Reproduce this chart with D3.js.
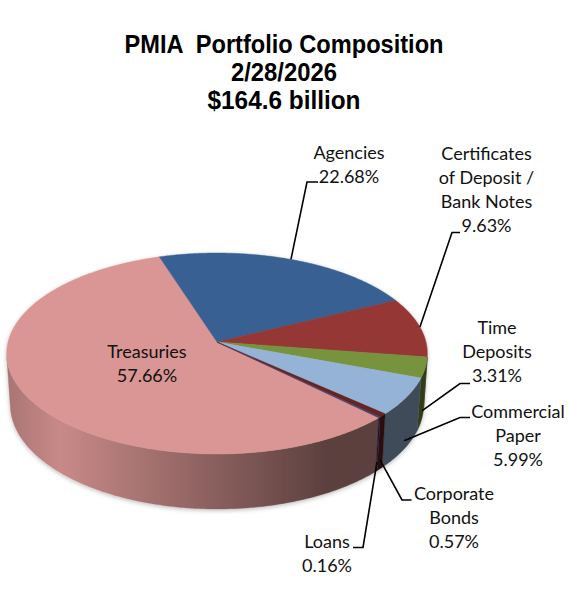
<!DOCTYPE html>
<html>
<head>
<meta charset="utf-8">
<script src="https://cdn.jsdelivr.net/npm/d3@7"></script>
<style>
  body { margin: 0; background: #fff; }
  svg { display: block; }
</style>
</head>
<body>
<svg id="chart"></svg>
<script>
// ---- data ----
const categories = ["Treasuries", "Agencies", "Certificates of Deposit / Bank Notes", "Time Deposits",
  "Commercial Paper", "Corporate Bonds", "Loans"];
const shares = [57.66, 22.68, 9.63, 3.31, 5.99, 0.57, 0.16];
const labelLines = [["Treasuries"], ["Agencies"], ["Certificates", "of Deposit /", "Bank Notes"],
  ["Time", "Deposits"], ["Commercial", "Paper"], ["Corporate", "Bonds"], ["Loans"]];
const titleLines = ["PMIA  Portfolio Composition", "2/28/2026", "$164.6 billion"];

// ---- style / layout ----
const colors = ["#D99694", "#376092", "#953735", "#77933C", "#95B3D7", "#632523", "#4F3A64"];
const W = 569, H = 613;
const CX = 217, CY = 342;          // projected pie centre
const K = 1609, DIST = 7.7;         // perspective
const COS_T = 0.88, SIN_T = 0.4745; // tilt
const THICK = 0.281;                // pie height (radius = 1)
const FIRST = 134.62 * Math.PI / 180;
const STEP = Math.PI / 360;

// where each label sits and how its leader bends
const labelLayout = [
  { x: 147, y: 357.5 },
  { x: 349, y: 159, bend: [307, 182], tick: 318, wall: 0 },
  { x: 486.5, y: 160, bend: [452, 232.5], tick: 460, wall: 0 },
  { x: 497, y: 333.5, bend: [460, 383.5], tick: 470, wall: 0.83 },
  { x: 518, y: 418, bend: [460, 417.5], tick: 470, wall: 0.83 },
  { x: 454, y: 500, bend: [402, 500], tick: 411.5, wall: 0.83 },
  { x: 327, y: 548, bend: [363, 547.5], tick: 353, wall: 0.83 }
];

const svg = d3.select("#chart").attr("width", W).attr("height", H);
svg.append("rect").attr("width", W).attr("height", H).attr("fill", "#fff");

const defs = svg.append("defs");
defs.append("filter").attr("id", "shadow").attr("x", "-10%").attr("y", "-10%").attr("width", "120%").attr("height", "130%")
  .append("feDropShadow").attr("dx", 0).attr("dy", 1.5).attr("stdDeviation", 2)
  .attr("flood-color", "#000").attr("flood-opacity", 0.25);

// title
svg.append("g").selectAll("text").data(titleLines).join("text")
  .attr("x", 284)
  .attr("y", (d, i) => 52.5 + i * 28)
  .attr("text-anchor", "middle")
  .attr("font-family", "'Liberation Sans', Arial, sans-serif")
  .attr("font-weight", "bold")
  .attr("font-size", 25)
  .attr("textLength", (d, i) => [319, 106, 153][i])
  .attr("lengthAdjust", "spacingAndGlyphs")
  .style("white-space", "pre")
  .attr("fill", "#000")
  .text(d => d);

// angle + height -> screen point [x, y, depth]
function proj(a, h) {
  const X = Math.sin(a), Z = Math.cos(a);
  const depth = DIST - h * SIN_T + Z * COS_T;
  const up = h * COS_T + Z * SIN_T;
  return [CX + K * X / depth, CY - K * up / depth, depth];
}

const pie = d3.pie().sort(null).startAngle(FIRST).endAngle(FIRST + 2 * Math.PI);
const arcs = pie(shares);

// wall is seen where cos(a) < -1 / (DIST * COS_T)
const visA = Math.acos(-1 / (DIST * COS_T));
const visB = 2 * Math.PI - visA;

const shadeX = [8, 60, 330, 427], shadeF = [0.78, 0.92, 0.42, 0.42];
function tint(c, f) {
  const r = d3.rgb(c);
  return d3.rgb(r.r * f, r.g * f, r.b * f).formatHex();
}
colors.forEach((c, i) => {
  const g = defs.append("linearGradient").attr("id", "wall" + i)
    .attr("gradientUnits", "userSpaceOnUse")
    .attr("x1", shadeX[0]).attr("x2", shadeX[3]).attr("y1", 0).attr("y2", 0);
  shadeX.forEach((x, k) => {
    g.append("stop").attr("offset", (x - shadeX[0]) / (shadeX[3] - shadeX[0]))
      .attr("stop-color", tint(c, shadeF[k]));
  });
});

const line = d3.line().x(p => p[0]).y(p => p[1]);
const pieG = svg.append("g").attr("filter", "url(#shadow)");

function arcPts(a0, a1, h) {
  const n = Math.max(2, Math.ceil((a1 - a0) / STEP));
  const pts = [];
  for (let k = 0; k <= n; k++) pts.push(proj(a0 + (a1 - a0) * k / n, h));
  return pts;
}

// outer walls, visible part only
const walls = [];
arcs.forEach((d, i) => {
  [0, 2 * Math.PI].forEach(off => {
    const a0 = Math.max(d.startAngle - off, visA), a1 = Math.min(d.endAngle - off, visB);
    if (a1 > a0) walls.push({ i: i, a0: a0, a1: a1 });
  });
});
pieG.append("g").selectAll("path").data(walls).join("path")
  .attr("d", w => line(arcPts(w.a0, w.a1, 0).concat(arcPts(w.a0, w.a1, -THICK).reverse())) + "Z")
  .attr("fill", w => "url(#wall" + w.i + ")")
  .attr("stroke", w => "url(#wall" + w.i + ")")
  .attr("stroke-width", 0.4);

// top faces
pieG.append("g").selectAll("path").data(arcs).join("path")
  .attr("d", d => line([[CX, CY]].concat(arcPts(d.startAngle, d.endAngle, 0))) + "Z")
  .attr("fill", (d, i) => colors[i])
  .attr("stroke", (d, i) => colors[i])
  .attr("stroke-width", 0.5);

// leader lines
const fmt = v => d3.format(".2f")(v) + "%";
const leaders = svg.append("g").attr("fill", "none").attr("stroke", "#000").attr("stroke-width", 1.6);
arcs.forEach((d, i) => {
  const L = labelLayout[i];
  if (!L.bend) return;
  const mid = (d.startAngle + d.endAngle) / 2;
  const p = proj(mid, -THICK * L.wall);
  leaders.append("path")
    .attr("d", line([[p[0], p[1]], L.bend, [L.tick, L.bend[1]]]));
});

// labels
const labels = svg.append("g")
  .attr("font-family", "Lato, 'Open Sans', sans-serif")
  .attr("font-size", 18)
  .attr("fill", "#111")
  .attr("text-anchor", "middle");
arcs.forEach((d, i) => {
  const L = labelLayout[i];
  const lines = labelLines[i].concat([fmt(shares[i])]);
  const t = labels.append("text").attr("x", L.x).attr("y", L.y);
  lines.forEach((s, k) => {
    t.append("tspan").attr("x", L.x).attr("y", L.y + k * 24).text(s);
  });
});
</script>
</body>
</html>
